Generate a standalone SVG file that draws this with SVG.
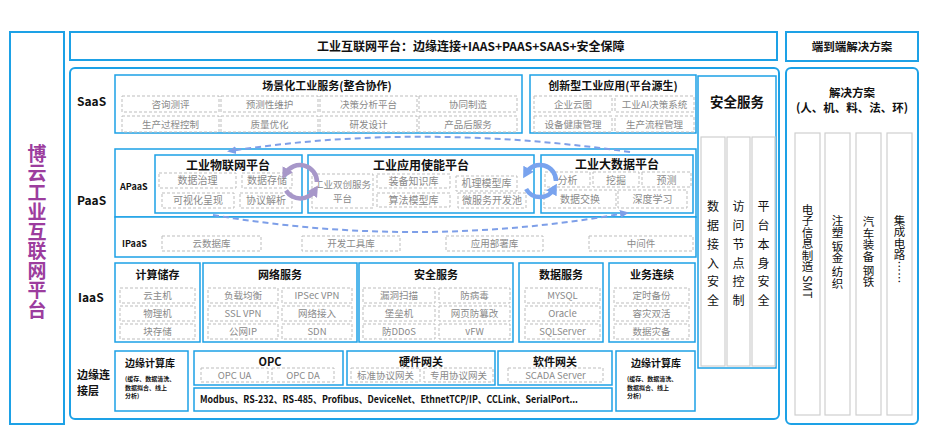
<svg xmlns="http://www.w3.org/2000/svg" width="926" height="441" viewBox="0 0 926 441">
<defs>
<style>
text{font-family:"Noto Sans CJK SC","Noto Sans",sans-serif;}
.frame{fill:#fff;stroke:#1DA1E6;stroke-width:2;}
.box{fill:#fff;stroke:#1DA1E6;stroke-width:1.5;}
.col{fill:#fff;stroke:#CFCFCF;stroke-width:1.2;}
.cell{fill:#fff;stroke:#BDBDBD;stroke-width:1;stroke-dasharray:3 2;}
.ct{font-size:9.5px;fill:#8A8A8A;text-anchor:middle;}
.ct2{font-size:10px;fill:#8A8A8A;text-anchor:middle;}
.tt{font-size:11px;font-weight:bold;fill:#111;text-anchor:middle;}
.tb{font-size:12px;font-weight:bold;fill:#111;text-anchor:middle;}
.lab{font-size:12px;font-weight:bold;fill:#111;}
.lab2{font-size:11px;font-weight:bold;fill:#111;}
.sm{font-size:9px;font-weight:bold;fill:#111;}
.tiny{font-size:6px;font-weight:bold;fill:#111;}
.vt{font-size:12px;fill:#111;writing-mode:vertical-rl;text-anchor:middle;letter-spacing:6.7px;}
.vr{font-size:11.5px;fill:#111;writing-mode:vertical-rl;text-anchor:middle;}
.dash{fill:none;stroke:#7E9FE8;stroke-width:2;stroke-dasharray:6 4;}
.cyP{fill:none;stroke:#A797C9;stroke-width:4.5;}
.cyB{fill:none;stroke:#79A3EE;stroke-width:4.5;}
</style>
<marker id="mD" markerUnits="userSpaceOnUse" markerWidth="10" markerHeight="10" refX="6" refY="5" orient="auto"><path d="M0,1 L9,5 L0,9 z" fill="#7E9FE8"/></marker>
<marker id="mP" markerUnits="userSpaceOnUse" markerWidth="12" markerHeight="12" refX="5" refY="6" orient="auto"><path d="M0,0 L11,6 L0,12 z" fill="#A797C9"/></marker>
<marker id="mB" markerUnits="userSpaceOnUse" markerWidth="12" markerHeight="12" refX="5" refY="6" orient="auto"><path d="M0,0 L11,6 L0,12 z" fill="#79A3EE"/></marker>
</defs>

<!-- left title -->
<g id="left-title">
<rect class="frame" x="10" y="32" width="54" height="392"/>
<text x="37" y="232" style="writing-mode:vertical-rl;text-anchor:middle;font-size:19px;font-weight:bold;fill:#9C3D9E;letter-spacing:0.5px">博云工业互联网平台</text>
</g>

<g id="header">
<rect class="frame" x="70" y="32" width="707" height="28"/>
<text x="317" y="50.5" style="font-size:12px;font-weight:bold;fill:#111">工业互联网平台：边缘连接+IAAS+PAAS+SAAS+安全保障</text>
</g>

<g id="main-frame">
<rect class="frame" x="70" y="68" width="709" height="351" rx="5"/>
<text class="lab" x="77" y="106">SaaS</text>
<text class="lab" x="77" y="205">PaaS</text>
<text class="lab" x="78" y="302">IaaS</text>
<text class="lab2" x="77" y="379">边缘连</text>
<text class="lab2" x="77" y="395">接层</text>
</g>

<!-- SaaS -->
<g id="saas-scene">
<rect class="box" x="115" y="75" width="407" height="58"/>
<text class="tt" x="327" y="90">场景化工业服务(整合协作)</text>
<rect class="cell" x="122" y="96" width="97" height="16"/><text class="ct" x="170.5" y="107.5">咨询测评</text>
<rect class="cell" x="221" y="96" width="97" height="16"/><text class="ct" x="269.5" y="107.5">预测性维护</text>
<rect class="cell" x="320" y="96" width="97" height="16"/><text class="ct" x="368.5" y="107.5">决策分析平台</text>
<rect class="cell" x="419" y="96" width="98" height="16"/><text class="ct" x="468" y="107.5">协同制造</text>
<rect class="cell" x="122" y="116" width="97" height="16"/><text class="ct" x="170.5" y="127.5">生产过程控制</text>
<rect class="cell" x="221" y="116" width="97" height="16"/><text class="ct" x="269.5" y="127.5">质量优化</text>
<rect class="cell" x="320" y="116" width="97" height="16"/><text class="ct" x="368.5" y="127.5">研发设计</text>
<rect class="cell" x="419" y="116" width="98" height="16"/><text class="ct" x="468" y="127.5">产品后服务</text>
</g>

<g id="saas-innov">
<rect class="box" x="530" y="75" width="166" height="58"/>
<text class="tt" x="613" y="90">创新型工业应用(平台源生)</text>
<rect class="cell" x="534" y="96" width="78" height="16"/><text class="ct" x="573" y="107.5">企业云图</text>
<rect class="cell" x="615" y="96" width="79" height="16"/><text class="ct" x="654.5" y="107.5">工业AI决策系统</text>
<rect class="cell" x="534" y="116" width="78" height="16"/><text class="ct" x="573" y="127.5">设备健康管理</text>
<rect class="cell" x="615" y="116" width="79" height="16"/><text class="ct" x="654.5" y="127.5">生产流程管理</text>
</g>

<!-- Security column -->
<g id="security-col">
<rect class="box" x="698" y="76" width="78" height="292"/>
<text x="737" y="107" style="font-size:13.5px;font-weight:bold;fill:#111;text-anchor:middle">安全服务</text>
<rect class="col" x="701" y="137" width="24" height="229"/>
<rect class="col" x="727" y="137" width="23" height="229"/>
<rect class="col" x="752" y="137" width="23" height="229"/>
<text class="vt" x="713" y="257">数据接入安全</text>
<text class="vt" x="738.5" y="257">访问节点控制</text>
<text class="vt" x="763.5" y="257">平台本身安全</text>
</g>

<!-- PaaS -->
<g id="paas-frame">
<rect class="box" x="115" y="149" width="581" height="68"/>
<rect class="box" x="115" y="217" width="581" height="40"/>
<text class="sm" x="120" y="190">APaaS</text>
<text class="sm" x="122" y="247">IPaaS</text>
</g>

<g id="iot-platform">
<rect class="box" x="155" y="155" width="147" height="58"/>
<text class="tb" x="228" y="169.5">工业物联网平台</text>
<rect class="cell" x="159" y="173" width="77" height="15"/><text class="ct2" x="197.5" y="184">数据治理</text>
<rect class="cell" x="242" y="173" width="50" height="15"/><text class="ct2" x="267" y="184">数据存储</text>
<rect class="cell" x="162" y="193" width="72" height="15"/><text class="ct2" x="198" y="204">可视化呈现</text>
<rect class="cell" x="240" y="193" width="52" height="15"/><text class="ct2" x="266" y="204">协议解析</text>
</g>

<g id="enable-platform">
<rect class="box" x="308" y="155" width="226" height="58"/>
<text class="tb" x="421" y="169.5">工业应用使能平台</text>
<rect class="cell" x="312" y="174" width="61" height="34"/><text class="ct" x="342.5" y="188">工业双创服务</text><text class="ct" x="342.5" y="202">平台</text>
<rect class="cell" x="377" y="174" width="73" height="14"/><text class="ct2" x="413.5" y="184.5">装备知识库</text>
<rect class="cell" x="377" y="193" width="73" height="14"/><text class="ct2" x="413.5" y="203.5">算法模型库</text>
<rect class="cell" x="456" y="176" width="61" height="15"/><text class="ct2" x="486.5" y="187">机理模型库</text>
<rect class="cell" x="458" y="193" width="68" height="15"/><text class="ct2" x="492" y="204">微服务开发池</text>
</g>

<g id="bigdata-platform">
<rect class="box" x="541" y="155" width="152" height="58"/>
<text class="tb" x="617" y="168.5">工业大数据平台</text>
<rect class="cell" x="545" y="172" width="45" height="15"/><text class="ct2" x="567.5" y="183.5">分析</text>
<rect class="cell" x="593" y="172" width="46" height="15"/><text class="ct2" x="616" y="183.5">挖掘</text>
<rect class="cell" x="642" y="172" width="49" height="15"/><text class="ct2" x="666.5" y="183.5">预测</text>
<rect class="cell" x="544" y="190" width="72" height="18"/><text class="ct2" x="580" y="202.5">数据交换</text>
<rect class="cell" x="618" y="190" width="69" height="18"/><text class="ct2" x="652.5" y="202.5">深度学习</text>
</g>

<g id="ipaas">
<rect class="cell" x="162" y="236" width="99" height="15"/><text class="ct" x="211.5" y="247">云数据库</text>
<rect class="cell" x="302" y="236" width="98" height="15"/><text class="ct" x="351" y="247">开发工具库</text>
<rect class="cell" x="446" y="236" width="97" height="15"/><text class="ct" x="494.5" y="247">应用部署库</text>
<rect class="cell" x="589" y="236" width="104" height="15"/><text class="ct" x="641" y="247">中间件</text>
</g>

<!-- IaaS -->
<g id="iaas-compute">
<rect class="box" x="115" y="263" width="85" height="79"/>
<text class="tt" x="157.5" y="279">计算储存</text>
<rect class="cell" x="120" y="288" width="75" height="15"/><text class="ct" x="157.5" y="299">云主机</text>
<rect class="cell" x="120" y="306" width="75" height="15"/><text class="ct" x="157.5" y="317">物理机</text>
<rect class="cell" x="120" y="324" width="75" height="15"/><text class="ct" x="157.5" y="335">块存储</text>
</g>
<g id="iaas-network">
<rect class="box" x="203" y="263" width="154" height="79"/>
<text class="tt" x="280" y="279">网络服务</text>
<rect class="cell" x="208" y="288" width="70" height="15"/><text class="ct" x="243" y="299">负载均衡</text>
<rect class="cell" x="282" y="288" width="70" height="15"/><text class="ct" x="317" y="299">IPSec VPN</text>
<rect class="cell" x="208" y="306" width="70" height="15"/><text class="ct" x="243" y="317">SSL VPN</text>
<rect class="cell" x="282" y="306" width="70" height="15"/><text class="ct" x="317" y="317">网络接入</text>
<rect class="cell" x="208" y="324" width="70" height="15"/><text class="ct" x="243" y="335">公网IP</text>
<rect class="cell" x="282" y="324" width="70" height="15"/><text class="ct" x="317" y="335">SDN</text>
</g>
<g id="iaas-security">
<rect class="box" x="359" y="263" width="154" height="79"/>
<text class="tt" x="436" y="279">安全服务</text>
<rect class="cell" x="363" y="288" width="72" height="15"/><text class="ct" x="399" y="299">漏洞扫描</text>
<rect class="cell" x="439" y="288" width="71" height="15"/><text class="ct" x="474.5" y="299">防病毒</text>
<rect class="cell" x="363" y="306" width="72" height="15"/><text class="ct" x="399" y="317">堡垒机</text>
<rect class="cell" x="439" y="306" width="71" height="15"/><text class="ct" x="474.5" y="317">网页防篡改</text>
<rect class="cell" x="363" y="324" width="72" height="15"/><text class="ct" x="399" y="335">防DDoS</text>
<rect class="cell" x="439" y="324" width="71" height="15"/><text class="ct" x="474.5" y="335">vFW</text>
</g>
<g id="iaas-data">
<rect class="box" x="519" y="263" width="84" height="79"/>
<text class="tt" x="561" y="279">数据服务</text>
<rect class="cell" x="525" y="288" width="75" height="15"/><text class="ct" x="562.5" y="299">MYSQL</text>
<rect class="cell" x="525" y="306" width="75" height="15"/><text class="ct" x="562.5" y="317">Oracle</text>
<rect class="cell" x="525" y="324" width="75" height="15"/><text class="ct" x="562.5" y="335">SQLServer</text>
</g>
<g id="iaas-business">
<rect class="box" x="609" y="263" width="86" height="79"/>
<text class="tt" x="652" y="279">业务连续</text>
<rect class="cell" x="614" y="288" width="75" height="15"/><text class="ct" x="651.5" y="299">定时备份</text>
<rect class="cell" x="614" y="306" width="75" height="15"/><text class="ct" x="651.5" y="317">容灾双活</text>
<rect class="cell" x="614" y="324" width="75" height="15"/><text class="ct" x="651.5" y="335">数据灾备</text>
</g>

<!-- Edge -->
<g id="edge-lib-left">
<rect class="box" x="115" y="351" width="73" height="60"/>
<text x="125" y="367" style="font-size:10px;font-weight:bold;fill:#111">边缘计算库</text>
<text class="tiny" x="125" y="381">(缓存、数据清洗、</text>
<text class="tiny" x="125" y="389.5">数据拟合、线上</text>
<text class="tiny" x="125" y="398">分析)</text>
</g>
<g id="edge-opc">
<rect class="box" x="194" y="351" width="149" height="34"/>
<text class="tt" x="270" y="366">OPC</text>
<rect class="cell" x="201" y="368" width="67" height="14"/><text class="ct" x="234.5" y="378.5">OPC UA</text>
<rect class="cell" x="272" y="368" width="62" height="14"/><text class="ct" x="303" y="378.5">OPC DA</text>
</g>
<g id="edge-hw">
<rect class="box" x="347" y="351" width="148" height="34"/>
<text class="tt" x="421" y="366">硬件网关</text>
<rect class="cell" x="351" y="368" width="69" height="14"/><text class="ct" x="385.5" y="378.5">标准协议网关</text>
<rect class="cell" x="424" y="368" width="69" height="14"/><text class="ct" x="458.5" y="378.5">专用协议网关</text>
</g>
<g id="edge-sw">
<rect class="box" x="498" y="351" width="114" height="34"/>
<text class="tt" x="555" y="366">软件网关</text>
<rect class="cell" x="508" y="368" width="95" height="14"/><text class="ct" x="555.5" y="378.5">SCADA Server</text>
</g>
<g id="edge-protocols">
<rect class="box" x="194" y="388" width="418" height="23"/>
<text x="200" y="403" textLength="378" lengthAdjust="spacingAndGlyphs" style="font-size:10px;font-weight:bold;fill:#111">Modbus、RS-232、RS-485、Profibus、DeviceNet、EthnetTCP/IP、CCLink、SerialPort...</text>
</g>
<g id="edge-lib-right">
<rect class="box" x="616" y="351" width="79" height="60"/>
<text x="631" y="367" style="font-size:10px;font-weight:bold;fill:#111">边缘计算库</text>
<text class="tiny" x="627" y="381">(缓存、数据清洗、</text>
<text class="tiny" x="627" y="389.5">数据拟合、线上</text>
<text class="tiny" x="627" y="398">分析)</text>
</g>

<!-- Right panel -->
<g id="e2e-header">
<rect class="frame" x="786" y="32" width="132" height="29"/>
<text x="852" y="50.5" style="font-size:11.5px;font-weight:bold;fill:#111;text-anchor:middle">端到端解决方案</text>
</g>
<g id="e2e-panel">
<rect class="frame" x="786" y="68" width="132" height="356" rx="5"/>
<text x="852" y="97" style="font-size:11.5px;font-weight:bold;fill:#111;text-anchor:middle">解决方案</text>
<text x="852" y="112" style="font-size:11.5px;font-weight:bold;fill:#111;text-anchor:middle">(人、机、料、法、环)</text>
<rect class="col" x="795" y="133" width="25" height="282"/>
<rect class="col" x="825" y="133" width="25" height="282"/>
<rect class="col" x="856" y="133" width="25" height="282"/>
<rect class="col" x="887" y="133" width="25" height="282"/>
<text class="vr" x="807.5" y="251">电子信息制造 SMT</text>
<text class="vr" x="837.5" y="252">注塑 钣金 纺织</text>
<text class="vr" x="868.5" y="252">汽车装备 钢铁</text>
<text class="vr" x="899.5" y="249">集成电路……</text>
</g>

<!-- connectors -->
<g id="connectors">
<path class="dash" d="M630,152 Q420,122 230,151" marker-end="url(#mD)"/>
<path class="dash" d="M213,215 Q420,250 626,213" marker-end="url(#mD)"/>
<path class="cyP" d="M317,182 A17 17 0 0 0 285.3,173.5" marker-end="url(#mP)"/>
<path class="cyP" d="M286,190.5 A17 17 0 0 0 314.7,190.5" marker-end="url(#mP)"/>
<path class="cyB" d="M556,181 A16 16 0 0 0 526.1,173" marker-end="url(#mB)"/>
<path class="cyB" d="M526.1,189 A16 16 0 0 0 553.9,189" marker-end="url(#mB)"/>
</g>
</svg>
